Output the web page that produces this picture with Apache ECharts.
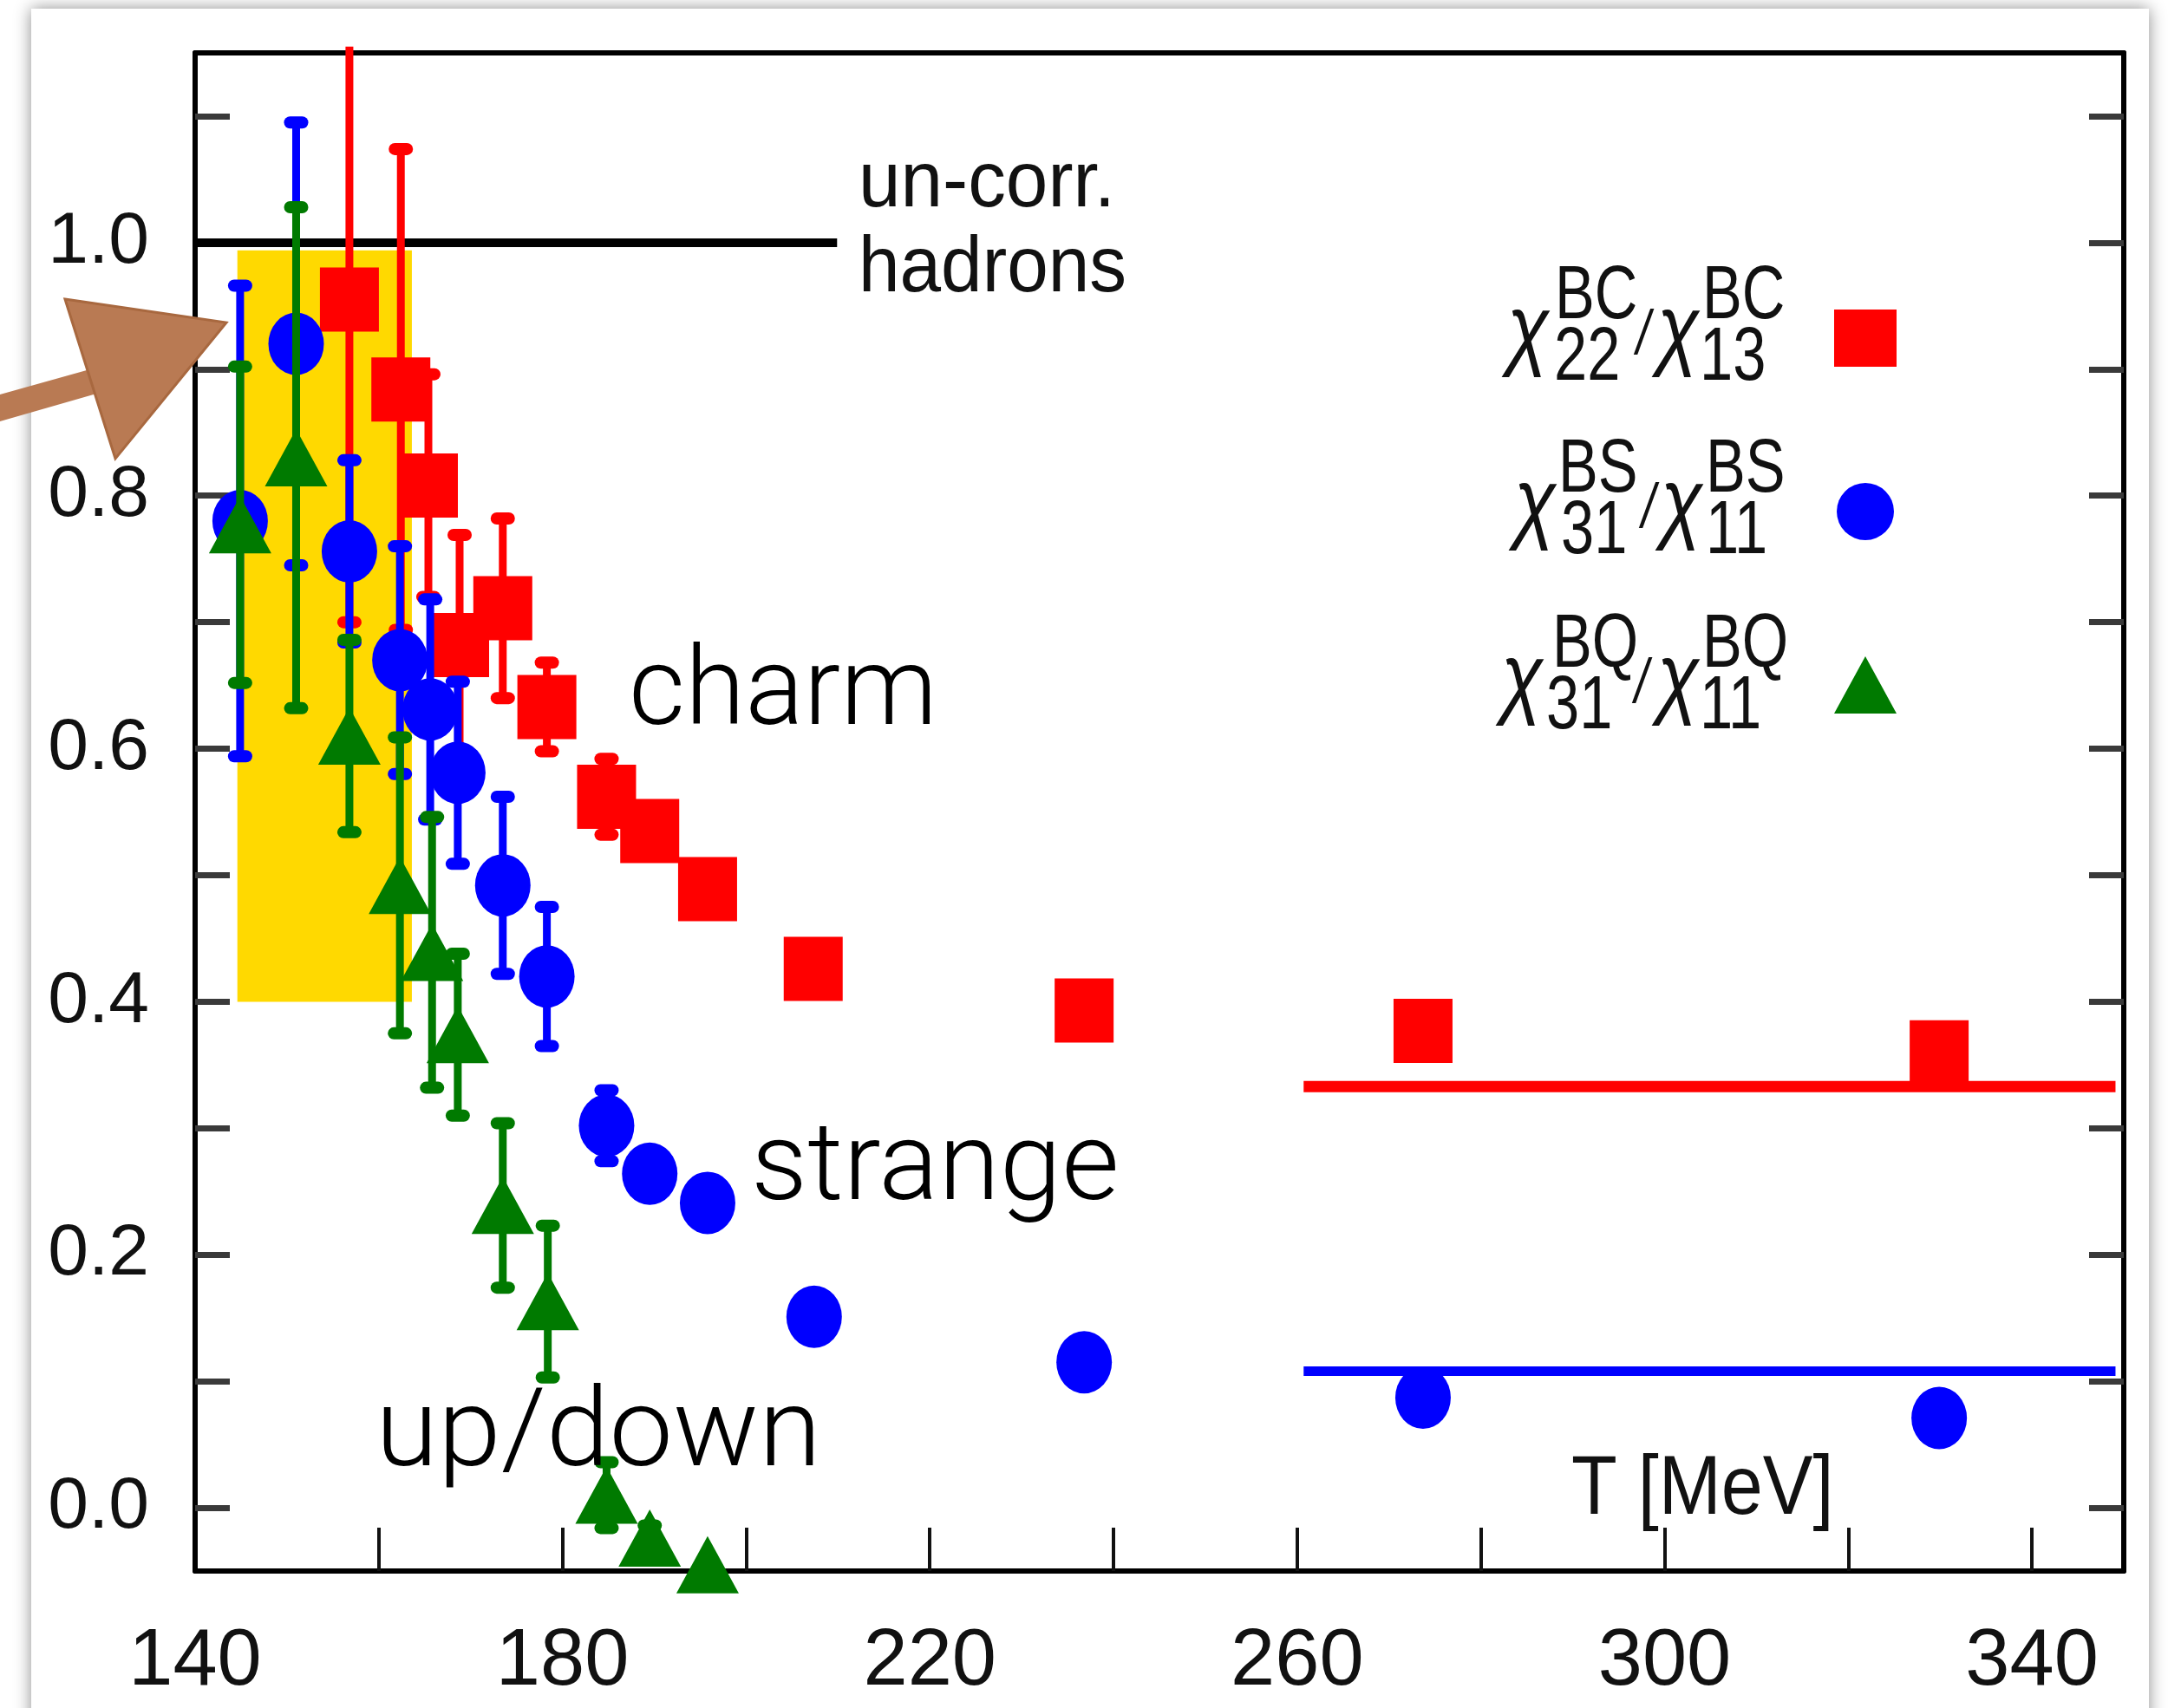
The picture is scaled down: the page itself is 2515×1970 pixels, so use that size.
<!DOCTYPE html>
<html>
<head>
<meta charset="utf-8">
<script src="https://cdn.jsdelivr.net/npm/echarts@6/dist/echarts.min.js"></script>
<style>
  html, body { margin: 0; padding: 0; background: #ffffff; }
  #chart { width: 2515px; height: 1970px; }
</style>
</head>
<body>
<div id="chart"></div>
<script>
// ---------------- data ----------------
// chi_22^BC / chi_13^BC  (charm)
const bcT   = [156.8, 162.4, 165.4, 168.8, 173.5, 178.3, 184.8, 189.5, 195.8, 207.3, 236.8, 273.7, 329.9];
const bcV   = [0.955, 0.884, 0.808, 0.682, 0.711, 0.633, 0.562, 0.535, 0.489, 0.426, 0.393, 0.377, 0.360];
const bcErr = [0.255, 0.190, 0.088, 0.087, 0.071, 0.035, 0.030, 0.020, 0.012, 0.010, 0.010, 0.010, 0.010];
// chi_31^BS / chi_11^BS  (strange)
const bsT   = [144.9, 151.0, 156.8, 162.3, 165.6, 168.6, 173.5, 178.3, 184.8, 189.5, 195.8, 207.4, 236.8, 273.7, 329.9];
const bsV   = [0.780, 0.920, 0.756, 0.670, 0.631, 0.581, 0.492, 0.420, 0.302, 0.264, 0.241, 0.151, 0.115, 0.087, 0.071];
const bsErr = [0.186, 0.175, 0.072, 0.090, 0.087, 0.072, 0.070, 0.055, 0.028, 0.010, 0.000, 0.000, 0.000, 0.000, 0.000];
// chi_31^BQ / chi_11^BQ  (up/down)
const bqT   = [144.9, 151.0, 156.8, 162.3, 165.8, 168.6, 173.5, 178.4, 184.8, 189.5, 195.8];
const bqV   = [0.777, 0.830, 0.610, 0.492, 0.439, 0.374, 0.239, 0.163, 0.010, -0.024, -0.045];
const bqErr = [0.125, 0.198, 0.076, 0.117, 0.107, 0.064, 0.065, 0.060, 0.026, 0.010, 0.000];
// reference levels
const hrgT = [140, 209.9];     const hrgLevel = 1.0;       // un-correlated hadrons
const freeT = [260.7, 349.1];  const freeBC = 0.333;  const freeBS = 0.108;
// yellow band (T range, value range)
const bandT = [144.6, 163.6];  const bandV = [0.400, 0.994];
// axes
const xMin = 140, xMax = 350, yMin = -0.05, yMax = 1.15;
const xTicks  = [160, 180, 200, 220, 240, 260, 280, 300, 320, 340];
const xLabels = [140, 180, 220, 260, 300, 340];
const yTicks  = [0.0, 0.1, 0.2, 0.3, 0.4, 0.5, 0.6, 0.7, 0.8, 0.9, 1.0, 1.1];
const yLabels = [0.0, 0.2, 0.4, 0.6, 0.8, 1.0];

// ---------------- chart ----------------
const RED = '#ff0000', BLUE = '#0000ff', GREEN = '#007a00';
const SANS = "'Liberation Sans', Arial, Helvetica, sans-serif";
const LIGHT = "Roboto, 'Liberation Sans', sans-serif";

function errBars(T, V, E, color, z) {
  return {
    type: 'custom', z: z, silent: true,
    data: T.map((t, i) => [t, V[i], E[i]]),
    encode: { x: 0, y: 1 },
    renderItem: function (params, api) {
      const x = api.value(0), v = api.value(1), e = api.value(2);
      if (!e) return null;
      let hi = v + e, lo = v - e;
      const hiClip = hi > yMax, loClip = lo < yMin;
      hi = Math.min(hi, yMax + 0.005); lo = Math.max(lo, yMin);
      const p1 = api.coord([x, hi]), p2 = api.coord([x, lo]);
      const children = [{
        type: 'line', shape: { x1: p1[0], y1: p1[1], x2: p2[0], y2: p2[1] },
        style: { stroke: color, lineWidth: 9 }
      }];
      if (!hiClip) children.push({ type: 'line', shape: { x1: p1[0] - 7, y1: p1[1], x2: p1[0] + 7, y2: p1[1] },
        style: { stroke: color, lineWidth: 14, lineCap: 'round' } });
      if (!loClip) children.push({ type: 'line', shape: { x1: p2[0] - 7, y1: p2[1], x2: p2[0] + 7, y2: p2[1] },
        style: { stroke: color, lineWidth: 14, lineCap: 'round' } });
      return { type: 'group', children: children };
    }
  };
}

function points(name, T, V, color, symbol, size, z) {
  return {
    name: name, type: 'scatter', z: z,
    data: T.map((t, i) => [t, V[i]]),
    symbol: symbol, symbolSize: size,
    itemStyle: { color: color, opacity: 1 },
    emphasis: { disabled: true }
  };
}

function hline(T, level, color, width, z) {
  return {
    type: 'line', z: z, silent: true, symbol: 'none',
    data: [[T[0], level], [T[1], level]],
    lineStyle: { color: color, width: width }
  };
}

// text helper: left edge + baseline
function txt(str, left, baseline, size, o) {
  o = o || {};
  return {
    type: 'text', x: left, y: baseline - (o.mid || 0.35) * size, z: 100,
    scaleX: o.sx || 1,
    style: {
      text: str, fontSize: size, fontFamily: o.family || SANS,
      fontWeight: o.weight || 'normal', fontStyle: o.style || 'normal',
      fill: o.fill || '#111111',
      align: 'left', verticalAlign: 'middle'
    }
  };
}

// legend text: chi^{sup}_{sub} / chi^{sup}_{sub}
function legendText(dy, xs, sup, subA, subB) {
  const SX = 0.78;
  return [
    txt('χ', xs[0], 420 + dy, 104, { sx: 0.85, style: 'italic' }),
    txt(sup, xs[1], 374 + dy, 88, { sx: SX }),
    txt(subA, xs[2], 445 + dy, 88, { sx: SX }),
    txt('/', xs[3], 414 + dy, 72, { sx: SX, style: 'italic' }),
    txt('χ', xs[4], 420 + dy, 104, { sx: 0.85, style: 'italic' }),
    txt(sup, xs[5], 374 + dy, 88, { sx: SX }),
    txt(subB, xs[6], 445 + dy, 88, { sx: SX })
  ];
}

const chart = echarts.init(document.getElementById('chart'), null, { renderer: 'canvas' });

const option = {
  backgroundColor: '#ffffff',
  animation: false,
  grid: { left: 225, top: 61, right: 66, bottom: 158, containLabel: false },
  xAxis: [{
    type: 'value', min: xMin, max: xMax, position: 'bottom',
    axisLine: { show: true, onZero: false, lineStyle: { color: '#000', width: 6 } },
    axisTick: { show: true, inside: true, length: 50, customValues: xTicks, lineStyle: { color: '#111', width: 4 } },
    axisLabel: { show: true, customValues: xLabels, margin: 60, fontSize: 92, fontFamily: SANS, color: '#111',
      formatter: v => String(Math.round(v)) },
    splitLine: { show: false }
  }, {
    type: 'value', min: xMin, max: xMax, position: 'top',
    axisLine: { show: true, onZero: false, lineStyle: { color: '#000', width: 6 } },
    axisTick: { show: false }, axisLabel: { show: false }, splitLine: { show: false }
  }],
  yAxis: [{
    type: 'value', min: yMin, max: yMax, position: 'left',
    axisLine: { show: true, onZero: false, lineStyle: { color: '#000', width: 6 } },
    axisTick: { show: true, inside: true, length: 40, customValues: yTicks, lineStyle: { color: '#3a3a3a', width: 7 } },
    axisLabel: { show: true, customValues: yLabels, margin: 53, fontSize: 84, fontFamily: SANS, color: '#111',
      formatter: v => v.toFixed(1) },
    splitLine: { show: false }
  }, {
    type: 'value', min: yMin, max: yMax, position: 'right',
    axisLine: { show: true, onZero: false, lineStyle: { color: '#000', width: 6 } },
    axisTick: { show: true, inside: true, length: 40, customValues: yTicks, lineStyle: { color: '#3a3a3a', width: 7 } },
    axisLabel: { show: false }, splitLine: { show: false }
  }],
  legend: {
    data: ['BC', 'BS', 'BQ'], orient: 'vertical', left: 2110, top: 352,
    itemWidth: 72, itemHeight: 66, itemGap: 134, selectedMode: false, symbolKeepAspect: false,
    formatter: () => '', textStyle: { fontSize: 1 }
  },
  series: [
    {
      type: 'custom', z: 1, silent: true,
      data: [[bandT[0], bandV[1], bandT[1], bandV[0]]],
      encode: { x: [0, 2], y: [1, 3] },
      renderItem: function (params, api) {
        const a = api.coord([api.value(0), api.value(1)]);
        const b = api.coord([api.value(2), api.value(3)]);
        return { type: 'rect', shape: { x: a[0], y: a[1], width: b[0] - a[0], height: b[1] - a[1] },
          style: { fill: '#ffd900' } };
      }
    },
    hline(hrgT, hrgLevel, '#000000', 10, 2),
    hline(freeT, freeBC, RED, 13, 2),
    hline(freeT, freeBS, BLUE, 11, 2),
    errBars(bcT, bcV, bcErr, RED, 3),
    points('BC', bcT, bcV, RED, 'rect', [68, 74], 4),
    errBars(bsT, bsV, bsErr, BLUE, 5),
    points('BS', bsT, bsV, BLUE, 'circle', [64, 72], 6),
    errBars(bqT, bqV, bqErr, GREEN, 7),
    points('BQ', bqT, bqV, GREEN, 'triangle', [72, 66], 8)
  ],
  graphic: { elements: [
    // slide frame with soft shadow
    { type: 'rect', z: -10, shape: { x: 36, y: 10, width: 2442, height: 2000 },
      style: { fill: '#ffffff', shadowBlur: 18, shadowColor: 'rgba(0,0,0,0.45)' } },
    // hand-drawn brown arrow
    { type: 'polygon', z: 120, shape: { points: [[0, 455], [150, 413], [160, 440], [0, 486]] },
      style: { fill: '#b97a53' } },
    { type: 'polygon', z: 120, shape: { points: [[75, 345], [261, 372], [133, 529]] },
      style: { fill: '#b97a53', stroke: '#a8683f', lineWidth: 3 } },
    // annotations
    txt('un-corr.', 990, 245, 90, { sx: 0.97 }),
    txt('hadrons', 990, 343, 90, { sx: 0.95 }),
    txt('charm', 725, 848, 126, { family: LIGHT, weight: 300, fill: '#000' }),
    txt('strange', 866, 1396, 126, { family: LIGHT, weight: 300, fill: '#000', sx: 1.02 }),
    txt('up/down', 433, 1703, 126, { family: LIGHT, weight: 300, fill: '#000', sx: 1.04 }),
    txt('T [MeV]', 1812, 1753, 96, { sx: 0.9 }),
    ...legendText(0,   [1738, 1793, 1792, 1887, 1911, 1963, 1960], 'BC', '22', '13'),
    ...legendText(200, [1746, 1797, 1800, 1893, 1915, 1967, 1967], 'BS', '31', '11'),
    ...legendText(402, [1731, 1790, 1783, 1885, 1911, 1963, 1960], 'BQ', '31', '11')
  ] }
};

chart.setOption(option);
</script>
</body>
</html>
